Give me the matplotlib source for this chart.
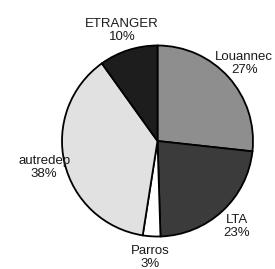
import matplotlib
matplotlib.use("Agg")
import matplotlib.pyplot as plt

labels = ["Louannec", "LTA", "Parros", "autredep", "ETRANGER"]
values = [27, 23, 3, 38, 10]
colors = ["#8e8e8e", "#3b3b3b", "#ffffff", "#e1e1e1", "#1d1d1d"]

W, H = 275, 269
cx, cy, R = 157.5, 141, 95.5   # pie centre / radius in pixels

fig = plt.figure(figsize=(W / 100, H / 100), dpi=100)
ax = fig.add_axes([0, 0, 1, 1])

wedges, texts = ax.pie(values, colors=colors, startangle=90, counterclock=False,
                       labels=[f"{n}\n{v}%" for n, v in zip(labels, values)],
                       labeldistance=1.22,
                       wedgeprops=dict(edgecolor="black", linewidth=1.3),
                       textprops=dict(fontsize=9.5, family="Liberation Sans",
                                      color="#1a1a1a", linespacing=1.1))
for t in texts:
    t.set_ha("center")
    t.set_va("center")

ax.set_xlim(-cx / R, (W - cx) / R)
ax.set_ylim(-(H - cy) / R, cy / R)
ax.set_aspect("equal")
ax.axis("off")

fig.savefig("out.png", dpi=100)
